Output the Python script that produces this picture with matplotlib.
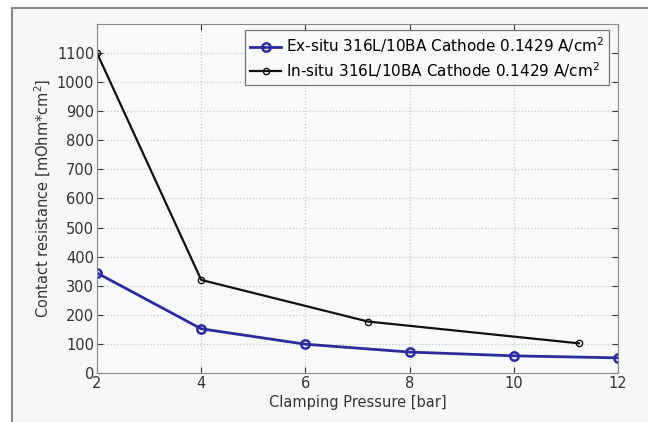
import matplotlib
matplotlib.use("Agg")
import matplotlib.pyplot as plt
from matplotlib.lines import Line2D
from matplotlib.patches import Rectangle

plt.rcParams['font.family'] = ['DejaVu Sans']

# Data
ex_x = [2, 4, 6, 8, 10, 12]
ex_y = [344, 152, 99, 72, 59, 52]
in_x = [2, 4, 7.2, 11.25]
in_y = [1100, 320, 177, 102]
ex_label = 'Ex-situ 316L/10BA Cathode 0.1429 A/cm$^2$'
in_label = 'In-situ 316L/10BA Cathode 0.1429 A/cm$^2$'
x_ticks = [2, 4, 6, 8, 10, 12]
y_ticks = list(range(0, 1101, 100))

fig = plt.figure(figsize=(6.48, 4.22), dpi=100)
fig.patch.set_facecolor('white')
bg = Rectangle((12/648, 0), 1 - 12/648, 1 - 8/422, transform=fig.transFigure,
               facecolor='#f6f7f9', edgecolor='none', zorder=-10)
fig.patches.append(bg)
fig.lines.append(Line2D([12/648, 12/648], [0, 1 - 8/422], transform=fig.transFigure,
                        color='#8a8a8a', lw=1.5))
fig.lines.append(Line2D([12/648, 1], [1 - 8/422, 1 - 8/422], transform=fig.transFigure,
                        color='#8a8a8a', lw=1.5))

ax = fig.add_axes([97/648, 1 - 373/422, (618 - 97)/648, (373 - 24)/422])
ax.set_facecolor('#f8f9fb')

ax.plot(ex_x, ex_y, color='#2b2b9e', lw=2.0, marker='o', ms=6, mfc='none',
        mec='#2b2b9e', mew=1.8, label=ex_label)
ax.plot(in_x, in_y, color='#111111', lw=1.6, marker='o', ms=4.5, mfc='none',
        mec='#111111', mew=1.0, label=in_label)

ax.set_xlim(2, 12)
ax.set_ylim(0, 1200)
ax.set_xticks(x_ticks)
ax.set_yticks(y_ticks)
ax.grid(True, color='#c8c8c8', linestyle=':', lw=0.9)
ax.tick_params(direction='in', top=True, right=True, labelsize=10.5, colors='#333333',
               length=4, pad=2)
for s in ax.spines.values():
    s.set_color('#8a8a8a')

ax.set_xlabel('Clamping Pressure [bar]', fontsize=10.5, color='#333333', labelpad=3)
ax.set_ylabel('Contact resistance [mOhm*cm$^2$]', fontsize=10.5, color='#333333', labelpad=3)

leg = ax.legend(loc='upper right', bbox_to_anchor=(0.983, 0.982), borderaxespad=0,
                fontsize=11, frameon=True, fancybox=False, edgecolor='#555555',
                handlelength=2.0, borderpad=0.35, labelspacing=0.3, handletextpad=0.3)
leg.get_frame().set_facecolor('#f8f9fb')
leg.get_frame().set_linewidth(0.9)

fig.savefig('out.png', dpi=100)
